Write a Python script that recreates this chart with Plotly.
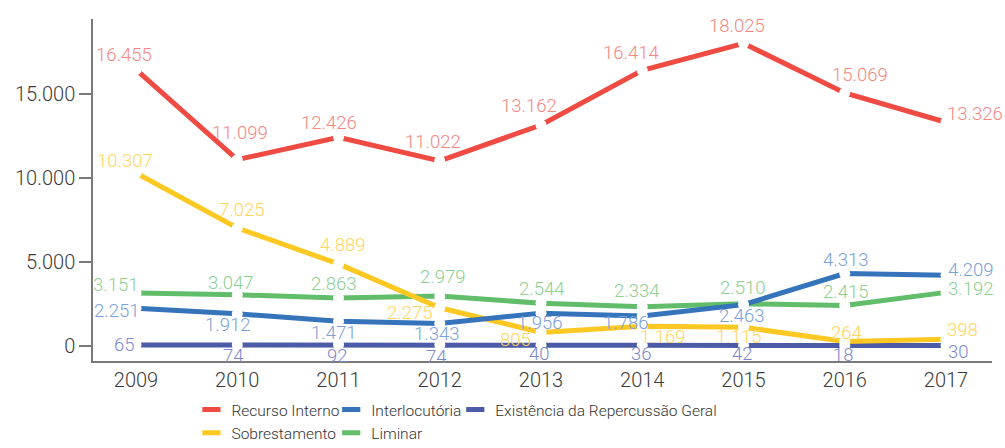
import plotly.graph_objects as go

years = ["2009", "2010", "2011", "2012", "2013", "2014", "2015", "2016", "2017"]

recurso_interno = [16455, 11099, 12426, 11022, 13162, 16414, 18025, 15069, 13326]
interlocutoria = [2251, 1912, 1471, 1343, 1956, 1786, 2463, 4313, 4209]
existencia = [65, 74, 92, 74, 40, 36, 42, 18, 30]
sobrestamento = [10307, 7025, 4889, 2275, 805, 1169, 1115, 264, 398]
liminar = [3151, 3047, 2863, 2979, 2544, 2334, 2510, 2415, 3192]

y_tickvals = [0, 5000, 10000, 15000]
y_ticktext = ["0", "5.000", "10.000", "15.000"]

FONT = "Roboto"
W = 300

def fmt(v):
    return f"{v:,}".replace(",", ".")

# label placement (anchor, dx, dy in screen pixels, dy down-positive)
place_red = [("center", -12, -15), ("center", 3, -27), ("center", -10, -14), ("center", -7, -19),
             ("center", -12, -19), ("center", -11, -17), ("center", -7, -17), ("center", 15, -18),
             ("left", -1, -8)]
place_yellow = [("center", -11, -12), ("center", 4, -18), ("center", 4, -19), ("right", -6, 5),
                ("right", -8, 8), ("center", 20, 11), ("center", -5, 10), ("center", 2, -9),
                ("left", -1, -9)]
place_blue = [("right", 5, 3), ("center", -10, 11), ("center", -5, 12), ("center", -3, 11),
              ("center", -2, 10), ("center", -17, 7), ("center", -2, 11), ("center", 1, -14),
              ("left", 0, -5)]
place_green = [("right", 4, -8), ("center", -7, -12), ("center", -5, -14), ("center", 3, -19),
               ("center", 0, -14), ("center", -6, -16), ("center", -1, -16), ("center", 1, -13),
               ("left", 0, -3)]
place_dark = [("right", 1, 0), ("center", -4, 11), ("center", -1, 12), ("center", -3, 12),
              ("center", -2, 9), ("center", -1, 9), ("center", -1, 9), ("center", -1, 9),
              ("left", 0, 7)]

series = [
    # name, values, line colour, label colour, legend, label placement
    ("Existência da Repercussão Geral", existencia, "#4B5BA8", "#7C88CA", "legend3", place_dark),
    ("Liminar", liminar, "#62BD6B", "#8DD08F", "legend2", place_green),
    ("Sobrestamento", sobrestamento, "#FEC822", "#FFD45C", "legend", place_yellow),
    ("Interlocutória", interlocutoria, "#3573BA", "#7BA0D8", "legend2", place_blue),
    ("Recurso Interno", recurso_interno, "#EF4B43", "#F5877F", "legend", place_red),
]

legend_order = ["Recurso Interno", "Interlocutória", "Existência da Repercussão Geral",
                "Sobrestamento", "Liminar"]

xs = list(range(len(years)))
fig = go.Figure()

# lines with white gaps at the points
for name, vals, lc, tc, lg, pl in series:
    fig.add_trace(go.Scatter(
        x=xs, y=vals, mode="lines+markers", showlegend=False, hoverinfo="skip",
        line=dict(color=lc, width=5),
        marker=dict(color="white", size=11, line=dict(width=0)),
        cliponaxis=False,
    ))

# data labels
annotations = []
for name, vals, lc, tc, lg, pl in series:
    for i, v in enumerate(vals):
        anchor, dx, dy = pl[i]
        annotations.append(dict(
            x=xs[i], y=v, xref="x", yref="y", text=fmt(v), showarrow=False,
            xanchor=anchor, yanchor="middle", xshift=dx, yshift=-dy,
            font=dict(family=FONT, size=18.5, color=tc, weight=W),
        ))

# legend entries
lookup = {s[0]: s for s in series}
for rank, name in enumerate(legend_order):
    _, vals, lc, tc, lg, pl = lookup[name]
    fig.add_trace(go.Scatter(
        x=[None], y=[None], mode="markers", name=name, legend=lg,
        legendrank=rank,
        marker=dict(symbol="line-ew", size=13, color=lc, line=dict(color=lc, width=5)),
    ))

legend_common = dict(
    orientation="v", yanchor="top", xanchor="left", y=-0.0936,
    font=dict(family=FONT, size=15.5, color="#333333", weight=W),
    bgcolor="rgba(0,0,0,0)", tracegroupgap=0, itemsizing="trace",
)

fig.update_layout(
    width=1005, height=448,
    margin=dict(l=93, r=13, t=19, b=87, autoexpand=False),
    paper_bgcolor="white", plot_bgcolor="white",
    font=dict(family=FONT, size=19, color="#3a3a3a", weight=W),
    separators=",.",
    annotations=annotations,
    legend=dict(x=0.1095, **legend_common),
    legend2=dict(x=0.265, **legend_common),
    legend3=dict(x=0.403, **legend_common),
    xaxis=dict(
        range=[-0.425, 8.454], tickvals=xs, ticktext=years,
        showline=True, linecolor="#7a7a7a", linewidth=1.5,
        showgrid=False, zeroline=False, ticks="", automargin=False,
        tickfont=dict(family=FONT, size=20, color="#3a3a3a", weight=W),
    ),
    yaxis=dict(
        range=[-895, 19475], tickvals=y_tickvals, ticktext=y_ticktext,
        showline=True, linecolor="#7a7a7a", linewidth=1.5,
        ticks="outside", ticklen=12, tickcolor="#7a7a7a", tickwidth=1.5,
        showgrid=False, zeroline=False, automargin=False,
        tickfont=dict(family=FONT, size=20, color="#3a3a3a", weight=W),
    ),
)

fig.write_html("out.html", config={"displayModeBar": False},
               post_script="document.body.style.margin='0px';")
